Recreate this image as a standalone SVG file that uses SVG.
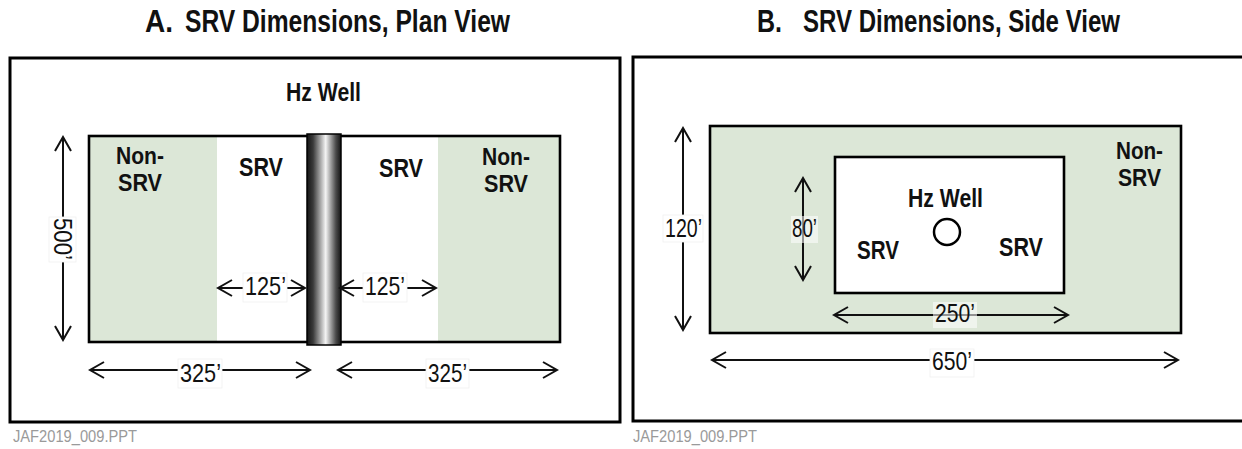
<svg xmlns="http://www.w3.org/2000/svg" width="1242" height="449" viewBox="0 0 1242 449">
  <style>
    .frame { fill: #ffffff; stroke: #000; stroke-width: 3; }
    .zone { fill: none; stroke: #000; stroke-width: 2.6; }
    .green { fill: #dce7d7; }
    .title { font-family: "Liberation Sans", Arial, sans-serif; font-weight: bold; font-size: 31px; fill: #111; }
    .lbl { font-family: "Liberation Sans", Arial, sans-serif; font-weight: bold; font-size: 26px; fill: #111; }
    .stack { font-size: 24px; }
    .dim { font-family: "Liberation Sans", Arial, sans-serif; font-size: 26px; fill: #111; }
    .foot { font-family: "Liberation Sans", Arial, sans-serif; font-size: 16px; fill: #9a9a9a; }
    .dimline { stroke: #111; stroke-width: 2; fill: none; marker-start: url(#tip); marker-end: url(#tip); }
    .tag { fill: #ffffff; stroke: #f0f0f0; stroke-width: 0.8; }
    .tag-soft { fill: #ffffff; fill-opacity: 0.55; }
  </style>
  <defs>
    <marker id="tip" viewBox="-16 -10 18 20" refX="0" refY="0" markerWidth="18" markerHeight="20" markerUnits="userSpaceOnUse" orient="auto-start-reverse">
      <path d="M -14 -8 L 0 0 L -14 8" fill="none" stroke="#111" stroke-width="2"/>
    </marker>
    <linearGradient id="pipe" x1="0" y1="0" x2="1" y2="0">
      <stop offset="0" stop-color="#141414"/>
      <stop offset="0.18" stop-color="#3a3a3a"/>
      <stop offset="0.55" stop-color="#f4f4f4"/>
      <stop offset="0.85" stop-color="#4a4a4a"/>
      <stop offset="1" stop-color="#141414"/>
    </linearGradient>
  </defs>

  <rect width="1242" height="449" fill="#ffffff"/>

  <!-- Titles -->
  <g id="title-a">
    <text class="title" x="145" y="32" textLength="28" lengthAdjust="spacingAndGlyphs">A.</text>
    <text class="title" x="185" y="32" textLength="325" lengthAdjust="spacingAndGlyphs">SRV Dimensions, Plan View</text>
  </g>
  <g id="title-b">
    <text class="title" x="757" y="32" textLength="25" lengthAdjust="spacingAndGlyphs">B.</text>
    <text class="title" x="803" y="32" textLength="317" lengthAdjust="spacingAndGlyphs">SRV Dimensions, Side View</text>
  </g>

  <!-- Panel A: plan view -->
  <g id="panel-a">
    <rect class="frame" x="10" y="58" width="610" height="364"/>
  </g>
  <g id="plan-nonsrv-left">
    <rect class="green" x="89" y="136" width="128" height="206"/>
    <text class="lbl stack" x="116" y="164" textLength="48" lengthAdjust="spacingAndGlyphs">Non-</text>
    <text class="lbl stack" x="118" y="191" textLength="44" lengthAdjust="spacingAndGlyphs">SRV</text>
  </g>
  <g id="plan-srv-left">
    <text class="lbl" x="239" y="176" textLength="44" lengthAdjust="spacingAndGlyphs">SRV</text>
  </g>
  <g id="plan-srv-right">
    <text class="lbl" x="379" y="177" textLength="44" lengthAdjust="spacingAndGlyphs">SRV</text>
  </g>
  <g id="plan-nonsrv-right">
    <rect class="green" x="438" y="136" width="122" height="206"/>
    <text class="lbl stack" x="482" y="165" textLength="48" lengthAdjust="spacingAndGlyphs">Non-</text>
    <text class="lbl stack" x="484" y="192" textLength="44" lengthAdjust="spacingAndGlyphs">SRV</text>
  </g>
  <g id="plan-outline">
    <rect class="zone" x="89" y="136" width="471" height="206"/>
  </g>
  <g id="plan-well">
    <rect x="307" y="134" width="34" height="211" fill="url(#pipe)" stroke="#000" stroke-width="1.5"/>
    <text class="lbl" x="286" y="101" textLength="75" lengthAdjust="spacingAndGlyphs">Hz Well</text>
  </g>

  <!-- Panel B: side view -->
  <g id="panel-b">
    <rect class="frame" x="633" y="57" width="620" height="364"/>
  </g>
  <g id="side-nonsrv">
    <rect class="green zone" x="710" y="126" width="471" height="207" style="fill:#dce7d7"/>
    <text class="lbl stack" x="1116" y="159" textLength="47" lengthAdjust="spacingAndGlyphs">Non-</text>
    <text class="lbl stack" x="1118" y="186" textLength="43" lengthAdjust="spacingAndGlyphs">SRV</text>
  </g>
  <g id="side-srv">
    <rect class="zone" x="835" y="157" width="229" height="136" style="fill:#ffffff"/>
    <text class="lbl" x="857" y="259" textLength="42" lengthAdjust="spacingAndGlyphs">SRV</text>
    <text class="lbl" x="999" y="256" textLength="44" lengthAdjust="spacingAndGlyphs">SRV</text>
  </g>
  <g id="side-well">
    <circle cx="947" cy="232" r="13" fill="#ffffff" stroke="#000" stroke-width="2.5"/>
    <text class="lbl" x="908" y="207" textLength="75" lengthAdjust="spacingAndGlyphs">Hz Well</text>
  </g>

  <!-- Dimension arrows -->
  <g id="connectors">
    <line class="dimline" x1="63" y1="137" x2="63" y2="340"/>
    <line class="dimline" x1="218" y1="288" x2="305" y2="288"/>
    <line class="dimline" x1="340" y1="288" x2="436" y2="288"/>
    <line class="dimline" x1="90" y1="370" x2="310" y2="370"/>
    <line class="dimline" x1="338" y1="370" x2="557" y2="370"/>
    <line class="dimline" x1="683" y1="128" x2="683" y2="330"/>
    <line class="dimline" x1="803" y1="178" x2="803" y2="280"/>
    <line class="dimline" x1="834" y1="315" x2="1068" y2="315"/>
    <line class="dimline" x1="712" y1="360" x2="1178" y2="360"/>
  </g>

  <!-- Dimension labels -->
  <g id="dim-500">
    <rect class="tag" x="49" y="217" width="27" height="45"/>
    <text class="dim" transform="translate(63,239) rotate(90)" x="0" y="9" text-anchor="middle" textLength="42" lengthAdjust="spacingAndGlyphs">500’</text>
  </g>
  <g id="dim-125-left">
    <rect class="tag" x="243" y="273" width="44" height="29"/>
    <text class="dim" x="245" y="295" textLength="41" lengthAdjust="spacingAndGlyphs">125’</text>
  </g>
  <g id="dim-125-right">
    <rect class="tag" x="363" y="273" width="44" height="29"/>
    <text class="dim" x="365" y="295" textLength="40" lengthAdjust="spacingAndGlyphs">125’</text>
  </g>
  <g id="dim-325-left">
    <rect class="tag" x="178" y="359" width="44" height="29"/>
    <text class="dim" x="180" y="382" textLength="41" lengthAdjust="spacingAndGlyphs">325’</text>
  </g>
  <g id="dim-325-right">
    <rect class="tag" x="426" y="359" width="43" height="29"/>
    <text class="dim" x="428" y="382" textLength="39" lengthAdjust="spacingAndGlyphs">325’</text>
  </g>
  <g id="dim-120">
    <rect class="tag" x="663" y="215" width="40" height="27"/>
    <text class="dim" x="665" y="237" textLength="37" lengthAdjust="spacingAndGlyphs">120’</text>
  </g>
  <g id="dim-80">
    <rect class="tag-soft" x="791" y="216" width="27" height="27"/>
    <text class="dim" x="792" y="237" textLength="25" lengthAdjust="spacingAndGlyphs">80’</text>
  </g>
  <g id="dim-250">
    <rect class="tag-soft" x="933" y="302" width="44" height="26"/>
    <text class="dim" x="935" y="322" textLength="40" lengthAdjust="spacingAndGlyphs">250’</text>
  </g>
  <g id="dim-650">
    <rect class="tag" x="930" y="349" width="44" height="28"/>
    <text class="dim" x="932" y="370" textLength="40" lengthAdjust="spacingAndGlyphs">650’</text>
  </g>

  <!-- File references -->
  <g id="footer-a">
    <text class="foot" x="13" y="442" textLength="124" lengthAdjust="spacingAndGlyphs">JAF2019_009.PPT</text>
  </g>
  <g id="footer-b">
    <text class="foot" x="633" y="442" textLength="124" lengthAdjust="spacingAndGlyphs">JAF2019_009.PPT</text>
  </g>
</svg>
